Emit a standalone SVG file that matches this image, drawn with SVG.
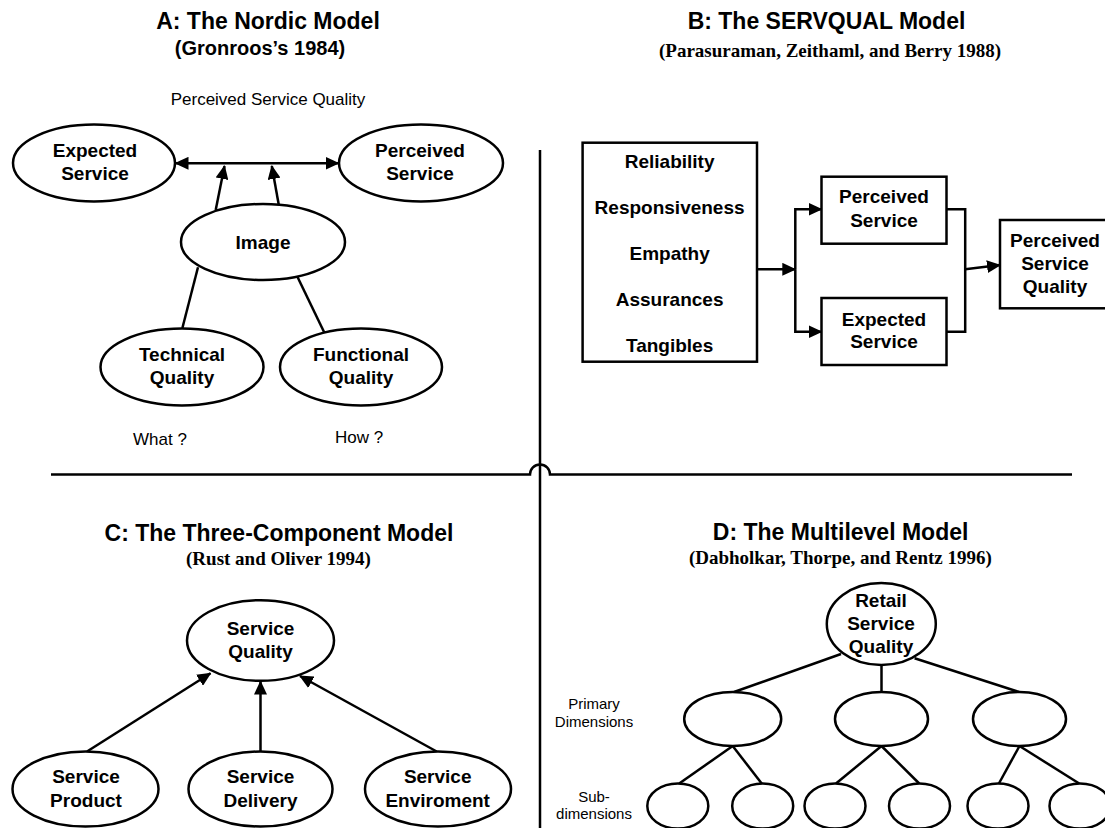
<svg xmlns="http://www.w3.org/2000/svg" width="1105" height="828" viewBox="0 0 1105 828">
<defs>
<marker id="ah" viewBox="0 0 14 13" refX="13" refY="6.5" markerWidth="14" markerHeight="13" markerUnits="userSpaceOnUse" orient="auto-start-reverse"><path d="M0,0 L14,6.5 L0,13 z" fill="#000"/></marker>
</defs>
<style>
.t{font-family:"Liberation Sans",Arial,sans-serif;font-weight:bold;font-size:23px;text-anchor:middle}
.ta{font-family:"Liberation Sans",Arial,sans-serif;font-weight:bold;font-size:20px;text-anchor:middle}
.s{font-family:"Liberation Serif","Times New Roman",serif;font-weight:bold;font-size:19px;text-anchor:middle}
.n{font-family:"Liberation Sans",Arial,sans-serif;font-weight:bold;font-size:19px;text-anchor:middle}
.r{font-family:"Liberation Sans",Arial,sans-serif;font-size:17px;text-anchor:middle}
.l{font-family:"Liberation Sans",Arial,sans-serif;font-size:15px;text-anchor:middle}
.sh{fill:#fff;stroke:#000;stroke-width:2.5}
.ln{fill:none;stroke:#000;stroke-width:2.5}
.ar{marker-end:url(#ah)}
</style>
<rect width="1105" height="828" fill="#fff"/>

<g id="dividers" class="ln">
<path d="M51,474.5 H530 A10,10 0 0 1 550,474.5 H1072"/>
<path d="M540,150 V828"/>
</g>

<!-- Panel A -->
<g id="a-titles">
<text class="t" x="268" y="29">A: The Nordic Model</text>
<text class="ta" x="260" y="55">(Gronroos’s 1984)</text>
<text class="r" x="268" y="105">Perceived Service Quality</text>
<text class="r" x="160" y="445">What ?</text>
<text class="r" x="359" y="443">How ?</text>
</g>
<g id="a-connectors" class="ln">
<line x1="175.5" y1="163.3" x2="338.5" y2="163.3" marker-start="url(#ah)" marker-end="url(#ah)"/>
<line class="ar" x1="215.7" y1="210" x2="224.5" y2="166"/>
<line class="ar" x1="278.8" y1="205" x2="271.8" y2="166"/>
<line x1="198" y1="267.3" x2="182.4" y2="328"/>
<line x1="297.4" y1="276.7" x2="324.4" y2="332.7"/>
</g>
<g id="a-expected"><ellipse class="sh" cx="94" cy="163" rx="81" ry="38.5"/><text class="n" x="95" y="157">Expected</text><text class="n" x="95" y="180">Service</text></g>
<g id="a-perceived"><ellipse class="sh" cx="421" cy="163" rx="82" ry="38.5"/><text class="n" x="420" y="157">Perceived</text><text class="n" x="420" y="180">Service</text></g>
<g id="a-image"><ellipse class="sh" cx="263" cy="242" rx="82" ry="38"/><text class="n" x="263" y="248.5">Image</text></g>
<g id="a-technical"><ellipse class="sh" cx="182" cy="367" rx="81.5" ry="38.5"/><text class="n" x="182" y="361">Technical</text><text class="n" x="182" y="384">Quality</text></g>
<g id="a-functional"><ellipse class="sh" cx="361" cy="367" rx="81" ry="38.5"/><text class="n" x="361" y="361">Functional</text><text class="n" x="361" y="384">Quality</text></g>

<!-- Panel B -->
<g id="b-titles">
<text class="t" x="826.5" y="29">B: The SERVQUAL Model</text>
<text class="s" x="830" y="56.5">(Parasuraman, Zeithaml, and Berry 1988)</text>
</g>
<g id="b-connectors" class="ln">
<line class="ar" x1="757" y1="269.3" x2="795.3" y2="269.3"/>
<path class="ar" d="M795.3,269.3 V209.3 H821.5"/>
<path class="ar" d="M795.3,269.3 V331.7 H821.5"/>
<path d="M946.5,209.3 H965.2 V331.7 H946.5"/>
<line class="ar" x1="965.2" y1="269.3" x2="1000" y2="265"/>
</g>
<g id="b-dimensions"><rect class="sh" x="582.6" y="142.7" width="174.4" height="219"/>
<text class="n" x="669.6" y="168.3">Reliability</text>
<text class="n" x="669.6" y="214.3">Responsiveness</text>
<text class="n" x="669.6" y="260">Empathy</text>
<text class="n" x="669.6" y="306">Assurances</text>
<text class="n" x="669.6" y="351.7">Tangibles</text></g>
<g id="b-perceived"><rect class="sh" x="821.5" y="176.7" width="125" height="67"/><text class="n" x="884" y="203.3">Perceived</text><text class="n" x="884" y="226.7">Service</text></g>
<g id="b-expected"><rect class="sh" x="821.5" y="298" width="125" height="67"/><text class="n" x="884" y="325.7">Expected</text><text class="n" x="884" y="348.3">Service</text></g>
<g id="b-psq"><rect class="sh" x="1000" y="220" width="110" height="88.3"/><text class="n" x="1055" y="246.7">Perceived</text><text class="n" x="1055" y="270">Service</text><text class="n" x="1055" y="292.7">Quality</text></g>

<!-- Panel C -->
<g id="c-titles">
<text class="t" x="279" y="540.5">C: The Three-Component Model</text>
<text class="s" x="278.5" y="565">(Rust and Oliver 1994)</text>
</g>
<g id="c-connectors" class="ln">
<line class="ar" x1="87" y1="751.5" x2="210.5" y2="673.3"/>
<line class="ar" x1="260.5" y1="751.5" x2="260.5" y2="681.5"/>
<line class="ar" x1="436.7" y1="751.5" x2="300" y2="676"/>
</g>
<g id="c-sq"><ellipse class="sh" cx="260.5" cy="640.5" rx="73.5" ry="40.3"/><text class="n" x="260.5" y="635">Service</text><text class="n" x="260.5" y="658.3">Quality</text></g>
<g id="c-product"><ellipse class="sh" cx="85.5" cy="789" rx="73" ry="37.5"/><text class="n" x="86" y="783.3">Service</text><text class="n" x="86" y="806.7">Product</text></g>
<g id="c-delivery"><ellipse class="sh" cx="260.5" cy="789" rx="72" ry="37.5"/><text class="n" x="260.5" y="783.3">Service</text><text class="n" x="260.5" y="806.7">Delivery</text></g>
<g id="c-environment"><ellipse class="sh" cx="438" cy="789" rx="73" ry="37.5"/><text class="n" x="437.7" y="783.3">Service</text><text class="n" x="437.7" y="806.7">Enviroment</text></g>

<!-- Panel D -->
<g id="d-titles">
<text class="t" x="840.6" y="539.5">D: The Multilevel Model</text>
<text class="s" x="840.4" y="564">(Dabholkar, Thorpe, and Rentz 1996)</text>
<text class="l" x="594" y="709.3">Primary</text>
<text class="l" x="594" y="727.3">Dimensions</text>
<text class="l" x="594" y="801.7">Sub-</text>
<text class="l" x="594" y="819.3">dimensions</text>
</g>
<g id="d-connectors" class="ln">
<line x1="841" y1="654" x2="734" y2="692"/>
<line x1="881.5" y1="665" x2="881.5" y2="692"/>
<line x1="914.6" y1="658.3" x2="1019" y2="692"/>
<line x1="732.7" y1="746" x2="679.2" y2="783.5"/>
<line x1="732.7" y1="746" x2="761.7" y2="783.5"/>
<line x1="881.5" y1="746" x2="836" y2="783.5"/>
<line x1="881.5" y1="746" x2="919.2" y2="783.5"/>
<line x1="1019.5" y1="746" x2="998.9" y2="783.5"/>
<line x1="1019.5" y1="746" x2="1079.2" y2="783.5"/>
</g>
<g id="d-root"><ellipse class="sh" cx="881.3" cy="624" rx="54.5" ry="41"/><text class="n" x="881" y="606.7">Retail</text><text class="n" x="881" y="630">Service</text><text class="n" x="881" y="652.7">Quality</text></g>
<g id="d-p1"><ellipse class="sh" cx="732.7" cy="719" rx="48.5" ry="27"/></g>
<g id="d-p2"><ellipse class="sh" cx="881.5" cy="719" rx="46.5" ry="27"/></g>
<g id="d-p3"><ellipse class="sh" cx="1019.5" cy="719" rx="46.5" ry="27"/></g>
<g id="d-s1"><ellipse class="sh" cx="677.8" cy="806" rx="30.5" ry="22.5"/></g>
<g id="d-s2"><ellipse class="sh" cx="762.7" cy="806" rx="30.5" ry="22.5"/></g>
<g id="d-s3"><ellipse class="sh" cx="835" cy="806" rx="30.5" ry="22.5"/></g>
<g id="d-s4"><ellipse class="sh" cx="919.5" cy="806" rx="30.5" ry="22.5"/></g>
<g id="d-s5"><ellipse class="sh" cx="998" cy="806" rx="30.5" ry="22.5"/></g>
<g id="d-s6"><ellipse class="sh" cx="1080" cy="806" rx="30.5" ry="22.5"/></g>
</svg>
